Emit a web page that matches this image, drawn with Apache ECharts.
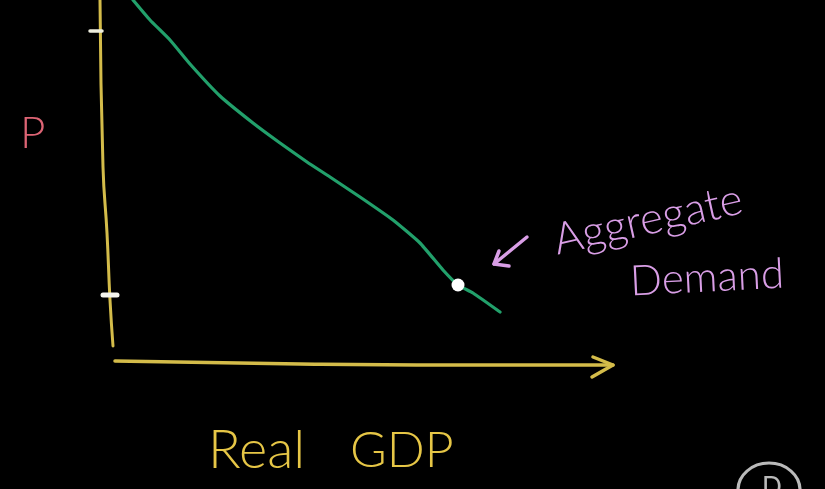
<!DOCTYPE html>
<html>
<head>
<meta charset="utf-8">
<script src="https://cdn.jsdelivr.net/npm/echarts@6/dist/echarts.min.js"></script>
<style>
html,body{margin:0;padding:0;background:#000;}
#c{width:825px;height:489px;}
</style>
</head>
<body>
<div id="c"></div>
<script>
// Aggregate demand curve (x = real GDP position, y = price level position, screen-like scale)
var demandX = [133, 150, 170, 190, 220, 253, 280, 307, 330, 360, 393, 420, 443, 458, 473, 500];
var demandY = [0, 20, 40, 64, 96, 123, 143, 162, 177, 197, 220, 243, 270, 285, 293, 312];
// highlighted point on curve
var pointX = [458];
var pointY = [285];
// hand-drawn vertical (P) axis
var pAxisX = [100, 103, 107, 110, 113];
var pAxisY = [0, 167, 233, 300, 346];
// hand-drawn horizontal (Real GDP) axis
var gdpAxisX = [115, 300, 450, 613];
var gdpAxisY = [361, 364, 365, 365];
var gdpArrowX = [593, 613, 592];
var gdpArrowY = [357, 365, 377];
// price-level tick marks
var tick1X = [90, 102];
var tick1Y = [31, 31];
var tick2X = [103, 117];
var tick2Y = [295, 295];
// annotation arrow
var noteShaftX = [527, 494];
var noteShaftY = [237, 264];
var noteHeadX = [499, 494, 509];
var noteHeadY = [251, 264, 266];
// partially visible circled letter at the bottom-right edge
var circleX = [769];
var circleY = [490];
// labels
var yLabel = 'P';
var xLabel = 'Real GDP';
var noteLine1 = 'Aggregate';
var noteLine2 = 'Demand';
var circleLabel = 'D';

function pts(xs, ys) { return xs.map(function (x, i) { return [x, ys[i]]; }); }

var xWords = xLabel.split(' ');
var yellow = '#d4bc4a';
var chart = echarts.init(document.getElementById('c'));
function seg(xs, ys, color, w, smooth) {
  return {
    type: 'line', data: pts(xs, ys), showSymbol: false, smooth: smooth || false,
    lineStyle: { color: color, width: w, cap: 'round', join: 'round' }, silent: true, z: 2
  };
}
chart.setOption({
  backgroundColor: '#000',
  animation: false,
  grid: { left: 0, right: 0, top: 0, bottom: 0 },
  xAxis: { type: 'value', min: 0, max: 825, show: false },
  yAxis: { type: 'value', min: 0, max: 489, inverse: true, show: false },
  series: [
    seg(pAxisX, pAxisY, yellow, 3, true),
    seg(gdpAxisX, gdpAxisY, yellow, 3.5, true),
    seg(gdpArrowX, gdpArrowY, yellow, 3.5),
    seg(tick1X, tick1Y, '#eeeede', 3.5),
    seg(tick2X, tick2Y, '#f4f4ee', 5),
    seg(demandX, demandY, '#22a06b', 3.2, 0.15),
    seg(noteShaftX, noteShaftY, '#d99ee6', 3.5),
    seg(noteHeadX, noteHeadY, '#d99ee6', 3.5),
    {
      type: 'scatter', data: pts(pointX, pointY), symbolSize: 13, z: 5,
      itemStyle: { color: '#ffffff', opacity: 1 }, silent: true
    },
    {
      type: 'scatter', data: pts(circleX, circleY), symbol: 'circle', symbolSize: [62, 54], clip: false,
      itemStyle: { color: 'rgba(0,0,0,0)', borderColor: '#e8e8e8', borderWidth: 3 },
      label: { show: true, formatter: circleLabel, position: 'inside', color: '#e8e8e8', fontSize: 26, offset: [3, -2], fontFamily: 'Lato' },
      silent: true
    }
  ],
  graphic: [
    { type: 'text', left: 20, top: 112, style: { text: yLabel, fill: '#dd6474', font: '300 44px Lato' } },
    { type: 'text', left: 208, top: 424, style: { text: xWords[0], fill: '#e6c646', font: '300 54px Lato' } },
    { type: 'text', left: 350, top: 426, style: { text: xWords[1], fill: '#e6c646', font: '300 50px Lato' } },
    { type: 'text', x: 648, y: 220, rotation: 0.22, style: { text: noteLine1, fill: '#d99ee6', font: '300 44px Lato', align: 'center', verticalAlign: 'middle' } },
    { type: 'text', x: 707, y: 278, rotation: 0.05, style: { text: noteLine2, fill: '#d99ee6', font: '300 42px Lato', align: 'center', verticalAlign: 'middle' } }
  ]
});
</script>
</body>
</html>
